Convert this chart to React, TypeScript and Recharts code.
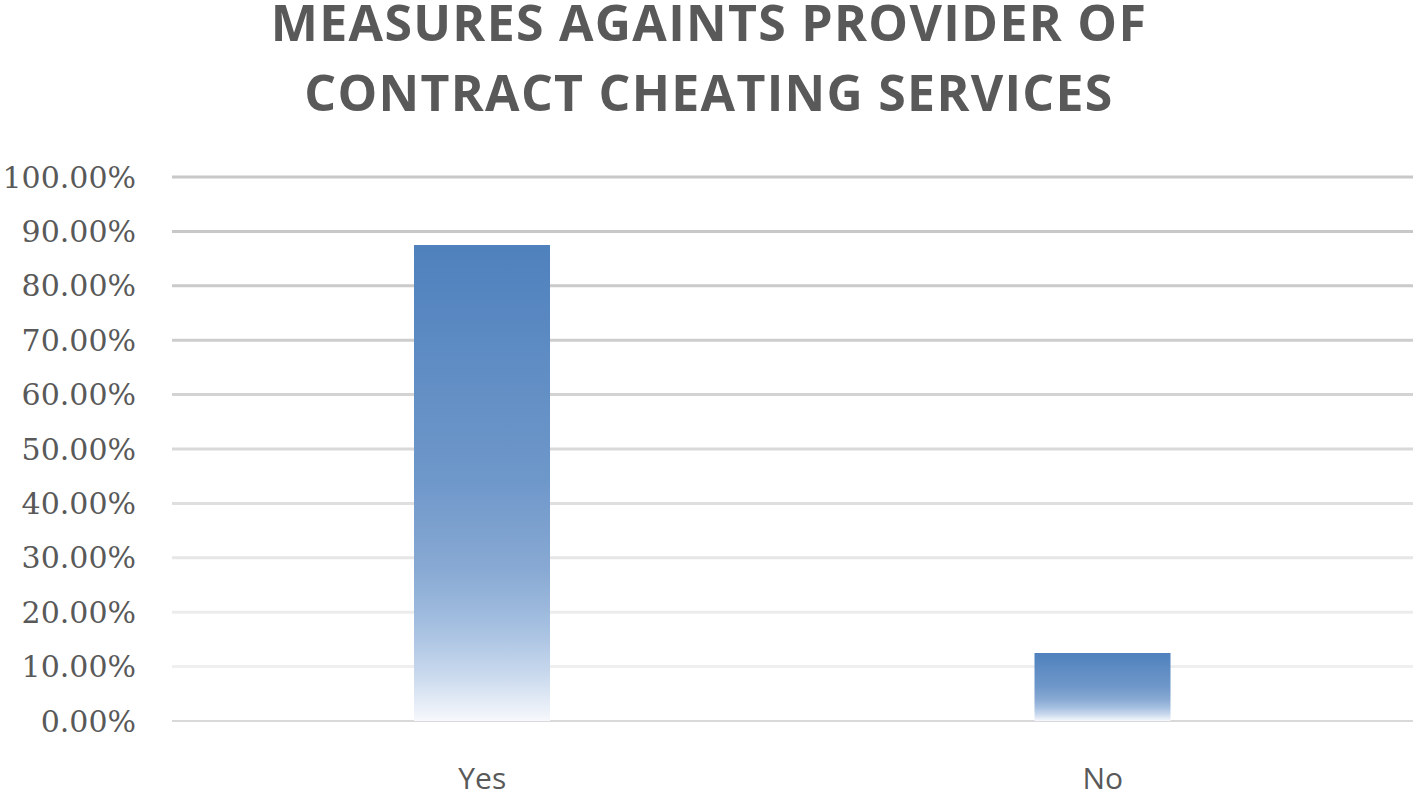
import { BarChart, Bar, XAxis, YAxis, CartesianGrid } from 'recharts';

const categories = ['Yes', 'No'];
const shares = [0.875, 0.125];
const yTicks = [0, 0.1, 0.2, 0.3, 0.4, 0.5, 0.6, 0.7, 0.8, 0.9, 1];
const titleLines = ['MEASURES AGAINTS PROVIDER OF', 'CONTRACT CHEATING SERVICES'];

// gridline shades, bottom to top (the picture fades them toward the axis)
const gridShades = ['#d9d9d9', '#efefef', '#ececec', '#e6e6e6', '#dfdfdf', '#d9d9d9', '#d3d3d3', '#cdcdcd', '#cacaca', '#c8c8c8', '#c8c8c8'];

const data = categories.map((name, i) => ({ name, value: shares[i] }));

const textGray = '#595959';

// one grid line, shaded by its position in the tick list
const gridLine = (props: any) => {
  const { x1, x2, y1, y2, index } = props;
  const shade = gridShades[index] ?? '#d9d9d9';
  return (
    <line
      key={`g-${index}`}
      x1={x1}
      x2={x2}
      y1={y1}
      y2={y2}
      stroke={shade}
      strokeWidth={index === 0 ? 2 : 3}
    />
  );
};

export default function App() {
  return (
    <div style={{ position: 'absolute', left: 0, top: 0, width: 1418, height: 798, background: '#fff', overflow: 'hidden' }}>
      {titleLines.map((t, i) => (
        <div
          key={t}
          style={{
            position: 'absolute',
            left: 0,
            top: 4 + i * 70,
            width: 1418,
            textAlign: 'center',
            fontFamily: '"Open Sans", sans-serif',
            fontWeight: 700,
            fontSize: 50,
            lineHeight: '36px',
            letterSpacing: 1.3,
            color: textGray,
          }}
        >
          {t}
        </div>
      ))}
      <BarChart
        width={1418}
        height={798}
        data={data}
        margin={{ top: 177, right: 5, left: 0, bottom: 0 }}
      >
        <defs>
          <linearGradient id="barFade" x1="0" y1="0" x2="0" y2="1">
            <stop offset="0" stopColor="#4f81bd" />
            <stop offset="0.5" stopColor="#6f98ca" />
            <stop offset="0.68" stopColor="#88a9d3" />
            <stop offset="0.8" stopColor="#a4bfe0" />
            <stop offset="0.9" stopColor="#c8d8ed" />
            <stop offset="1" stopColor="#f6f8fc" />
          </linearGradient>
        </defs>
        <CartesianGrid vertical={false} horizontal={gridLine} />
        <XAxis
          dataKey="name"
          axisLine={false}
          tickLine={false}
          tickSize={0}
          tickMargin={47}
          height={77}
          tick={{ fill: textGray, fontSize: 30, fontFamily: '"Open Sans", sans-serif' }}
        />
        <YAxis
          domain={[0, 1]}
          ticks={yTicks}
          width={172}
          axisLine={false}
          tickLine={false}
          tickSize={0}
          tickMargin={36}
          tickFormatter={(v: number) => `${(v * 100).toFixed(2)}%`}
          tick={{ fill: textGray, fontSize: 30, fontFamily: '"DejaVu Serif", serif' }}
        />
        <Bar dataKey="value" fill="url(#barFade)" barSize={136} isAnimationActive={false} />
      </BarChart>
    </div>
  );
}
